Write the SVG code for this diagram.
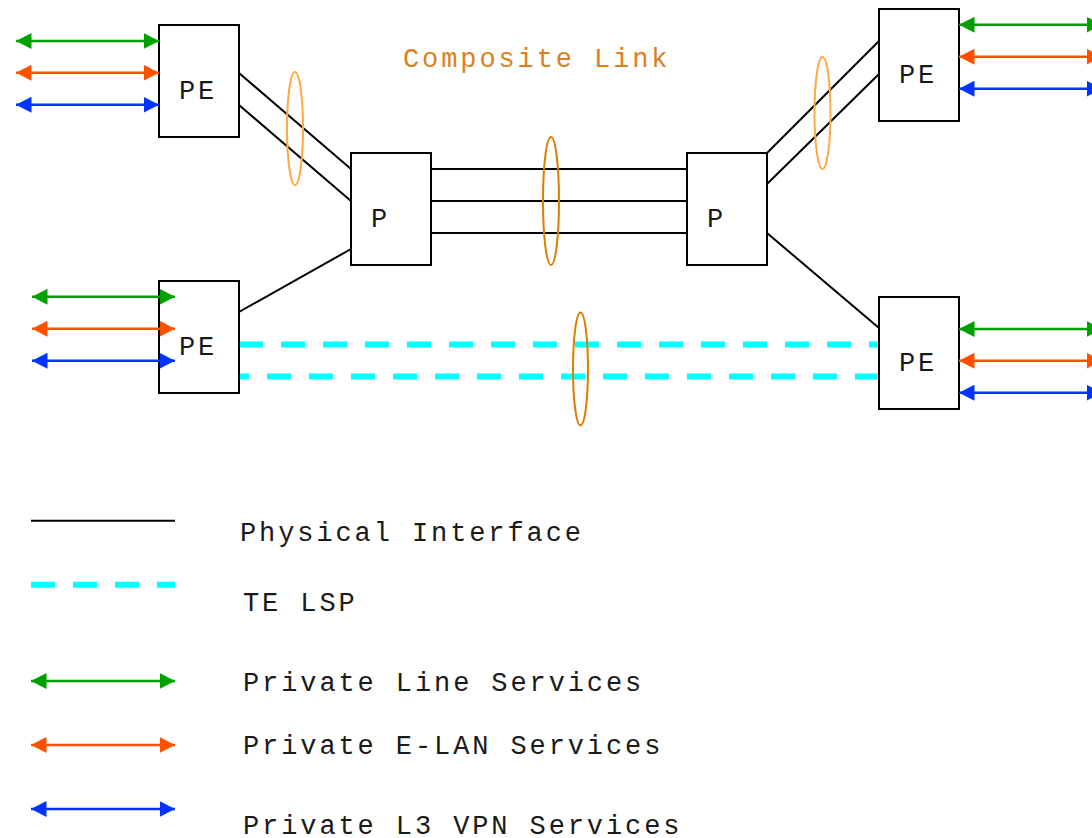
<svg xmlns="http://www.w3.org/2000/svg" width="1092" height="838" viewBox="0 0 1092 838">
<style>
.box{fill:#fff;stroke:#000;stroke-width:2}
.lbl{font-family:"Liberation Mono","Courier New",monospace;font-size:27px;letter-spacing:2.9px;fill:#1a1a1a}
.phy{stroke:#000;stroke-width:2;fill:none}
.lsp{stroke:#00ffff;stroke-width:6;stroke-dasharray:24 18;fill:none}
.g{stroke:#00a000;stroke-width:2.5;marker-start:url(#mg);marker-end:url(#mg)}
.o{stroke:#ff5000;stroke-width:2.5;marker-start:url(#mo);marker-end:url(#mo)}
.b{stroke:#0033ff;stroke-width:2.5;marker-start:url(#mb);marker-end:url(#mb)}
.el1{fill:none;stroke:#ffa940;stroke-width:2}
.el2{fill:none;stroke:#dc7f00;stroke-width:2}
</style>
<defs>
<marker id="mg" markerUnits="userSpaceOnUse" markerWidth="17" markerHeight="17" refX="15.5" refY="8.5" orient="auto-start-reverse" viewBox="0 0 17 17"><path d="M0,0.5 L15.5,8.5 L0,16.5 Z" fill="#00a000"/></marker>
<marker id="mo" markerUnits="userSpaceOnUse" markerWidth="17" markerHeight="17" refX="15.5" refY="8.5" orient="auto-start-reverse" viewBox="0 0 17 17"><path d="M0,0.5 L15.5,8.5 L0,16.5 Z" fill="#ff5000"/></marker>
<marker id="mb" markerUnits="userSpaceOnUse" markerWidth="17" markerHeight="17" refX="15.5" refY="8.5" orient="auto-start-reverse" viewBox="0 0 17 17"><path d="M0,0.5 L15.5,8.5 L0,16.5 Z" fill="#0033ff"/></marker>
</defs>
<rect width="1092" height="838" fill="#fff"/>

<g id="connectors">
<line class="phy" x1="239" y1="73" x2="351" y2="169"/>
<line class="phy" x1="239" y1="105" x2="351" y2="201"/>
<line class="phy" x1="239" y1="312" x2="351" y2="249"/>
<line class="phy" x1="431" y1="169" x2="687" y2="169"/>
<line class="phy" x1="431" y1="201" x2="687" y2="201"/>
<line class="phy" x1="431" y1="233" x2="687" y2="233"/>
<line class="phy" x1="767" y1="153" x2="879" y2="41"/>
<line class="phy" x1="767" y1="184" x2="879" y2="74"/>
<line class="phy" x1="767" y1="233" x2="879" y2="328"/>
<line class="lsp" x1="239" y1="344.5" x2="879" y2="344.5"/>
<line class="lsp" x1="879" y1="376.5" x2="239" y2="376.5"/>
<ellipse class="el1" cx="295" cy="128.5" rx="8" ry="56.5"/>
<ellipse class="el2" cx="551" cy="201" rx="8" ry="64"/>
<ellipse class="el1" cx="822.5" cy="113" rx="8" ry="56"/>
<ellipse class="el2" cx="580.5" cy="369" rx="7.5" ry="56.5"/>
</g>

<g id="PE1"><rect class="box" x="159" y="25" width="80" height="112"/><text class="lbl" x="179" y="99">PE</text></g>
<g id="P1"><rect class="box" x="351" y="153" width="80" height="112"/><text class="lbl" x="371" y="227">P</text></g>
<g id="P2"><rect class="box" x="687" y="153" width="80" height="112"/><text class="lbl" x="707" y="227">P</text></g>
<g id="PE2"><rect class="box" x="879" y="9" width="80" height="112"/><text class="lbl" x="899" y="83">PE</text></g>
<g id="PE3"><rect class="box" x="159" y="281" width="80" height="112"/><text class="lbl" x="179" y="355">PE</text></g>
<g id="PE4"><rect class="box" x="879" y="297" width="80" height="112"/><text class="lbl" x="899" y="371">PE</text></g>

<g id="services">
<line class="g" x1="16" y1="41" x2="159" y2="41"/>
<line class="o" x1="16" y1="72.7" x2="159" y2="72.7"/>
<line class="b" x1="16" y1="104.7" x2="159" y2="104.7"/>
<line class="g" x1="32" y1="296.7" x2="175" y2="296.7"/>
<line class="o" x1="32" y1="328.7" x2="175" y2="328.7"/>
<line class="b" x1="32" y1="360.7" x2="175" y2="360.7"/>
<line class="g" x1="959" y1="24.7" x2="1102" y2="24.7"/>
<line class="o" x1="959" y1="56.7" x2="1102" y2="56.7"/>
<line class="b" x1="959" y1="88.7" x2="1102" y2="88.7"/>
<line class="g" x1="959" y1="329" x2="1102" y2="329"/>
<line class="o" x1="959" y1="360.7" x2="1102" y2="360.7"/>
<line class="b" x1="959" y1="392.7" x2="1102" y2="392.7"/>
</g>

<text id="title" class="lbl" x="403" y="67" style="fill:#dc7f22">Composite Link</text>

<g id="legend">
<line class="phy" x1="31" y1="520.7" x2="175" y2="520.7"/>
<line class="lsp" x1="31" y1="584.7" x2="175" y2="584.7"/>
<line class="g" x1="31" y1="681" x2="175" y2="681"/>
<line class="o" x1="31" y1="745" x2="175" y2="745"/>
<line class="b" x1="31" y1="809" x2="175" y2="809"/>
<text class="lbl" x="240" y="541">Physical Interface</text>
<text class="lbl" x="243" y="611">TE LSP</text>
<text class="lbl" x="243" y="691">Private Line Services</text>
<text class="lbl" x="243" y="754">Private E-LAN Services</text>
<text class="lbl" x="243" y="834">Private L3 VPN Services</text>
</g>
</svg>
